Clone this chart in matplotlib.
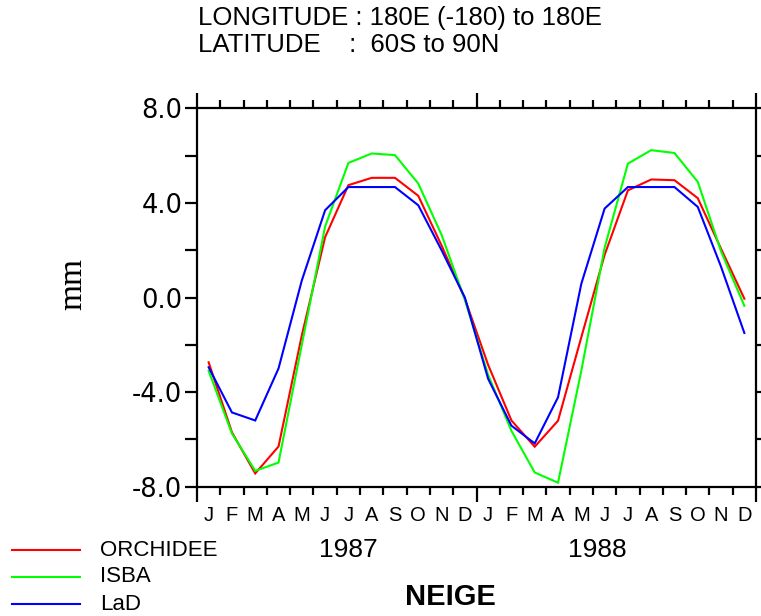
import matplotlib
matplotlib.use("Agg")
import matplotlib.pyplot as plt
from matplotlib.lines import Line2D

# Monthly snow (NEIGE) anomalies, Jan 1987 - Dec 1988
month_labels = list("JFMAMJJASOND") * 2
years = ["1987", "1988"]
series_names = ["ORCHIDEE", "ISBA", "LaD"]
series_colors = ["#ff0000", "#00ff00", "#0000ff"]

orchidee = [-2.74, -5.70, -7.44, -6.30, -1.60, 2.55, 4.75, 5.06, 5.06, 4.30, 2.20, -0.05,
            -2.85, -5.20, -6.31, -5.21, -1.68, 1.80, 4.53, 4.99, 4.96, 4.20, 2.06, -0.05]
isba = [-3.10, -5.75, -7.33, -6.98, -2.00, 3.00, 5.69, 6.09, 6.02, 4.82, 2.65, -0.10,
        -3.27, -5.64, -7.40, -7.83, -3.10, 2.10, 5.66, 6.23, 6.11, 4.89, 1.95, -0.35]
lad = [-2.95, -4.86, -5.20, -3.00, 0.72, 3.69, 4.67, 4.67, 4.67, 3.90, 2.00, 0.00,
       -3.44, -5.42, -6.17, -4.22, 0.58, 3.76, 4.67, 4.67, 4.67, 3.83, 1.30, -1.50]

y_major = [-8, -4, 0, 4, 8]
y_minor = [-6, -2, 2, 6]

W, H = 761, 616
fig = plt.figure(figsize=(W / 100, H / 100), dpi=100)
fig.patch.set_facecolor("white")

# axes box in pixel terms
left_px, right_px, top_px, bottom_px = 197, 756, 108.3, 486.7
ax = fig.add_axes([left_px / W, 1 - bottom_px / H,
                   (right_px - left_px) / W, (bottom_px - top_px) / H])

n = len(month_labels)
xs = [i + 0.5 for i in range(n)]
for vals, color in zip([orchidee, isba, lad], series_colors):
    ax.plot(xs, vals, color=color, lw=1.5, solid_joinstyle="miter")

ax.set_xlim(0, n)
ax.set_ylim(-8, 8)

for sp in ax.spines.values():
    sp.set_linewidth(1.6)
    sp.set_color("black")

# y axis: labelled every 4, ticks every 2, mirrored on the right
ax.set_yticks(y_major)
ax.set_yticks(y_minor, minor=True)
ax.set_yticklabels([f"{v:.1f}" for v in y_major], fontfamily="DejaVu Sans", fontsize=18.5)
ax.tick_params(axis="y", which="both", direction="out", length=8.5, width=1.6,
               left=True, right=True, labelleft=True, labelright=False, pad=2)

# x axis: year boundaries long, month boundaries short, top and bottom
ax.set_xticks([0, 12, 24])
ax.set_xticks([i for i in range(1, n) if i % 12 != 0], minor=True)
ax.tick_params(axis="x", which="major", direction="out", length=11, width=1.6,
               top=True, bottom=True, labelbottom=False)
ax.tick_params(axis="x", which="minor", direction="out", length=6, width=1.6,
               top=True, bottom=True, labelbottom=False)

# month letters under each month
for x, lab in zip(xs, month_labels):
    ax.annotate(lab, xy=(x, 0), xycoords=("data", "axes fraction"),
                xytext=(0, -20.5), textcoords="offset points",
                ha="center", va="center", fontsize=14.5, family="Liberation Sans")

# year labels
for x, lab in zip([6.5, 17.2], years):
    ax.annotate(lab, xy=(x, 0), xycoords=("data", "axes fraction"),
                xytext=(0, -45.5), textcoords="offset points",
                ha="center", va="center", fontsize=19, family="Liberation Sans")

ax.set_ylabel("mm", fontsize=24, family="Liberation Serif")
ax.yaxis.set_label_coords(-0.195, 0.535)

# header
fig.text(198 / W, 1 - 18 / H, "LONGITUDE : 180E (-180) to 180E",
         ha="left", va="center", fontsize=18.5, family="Liberation Sans")
fig.text(198 / W, 1 - 45 / H, "LATITUDE    :  60S to 90N",
         ha="left", va="center", fontsize=18.5, family="Liberation Sans")

# variable name
fig.text(450 / W, 1 - 597 / H, "NEIGE", ha="center", va="center",
         fontsize=21, fontweight="bold", family="Liberation Sans")

# key
for k, (name, color) in enumerate(zip(series_names, series_colors)):
    yk = 1 - (550 + 27 * k) / H
    fig.add_artist(Line2D([12 / W, 80 / W], [yk, yk], color=color, lw=1.5,
                          transform=fig.transFigure))
    fig.text(100 / W, yk, name, ha="left", va="center", fontsize=16,
             family="Liberation Sans")

fig.savefig("out.png", dpi=100)
